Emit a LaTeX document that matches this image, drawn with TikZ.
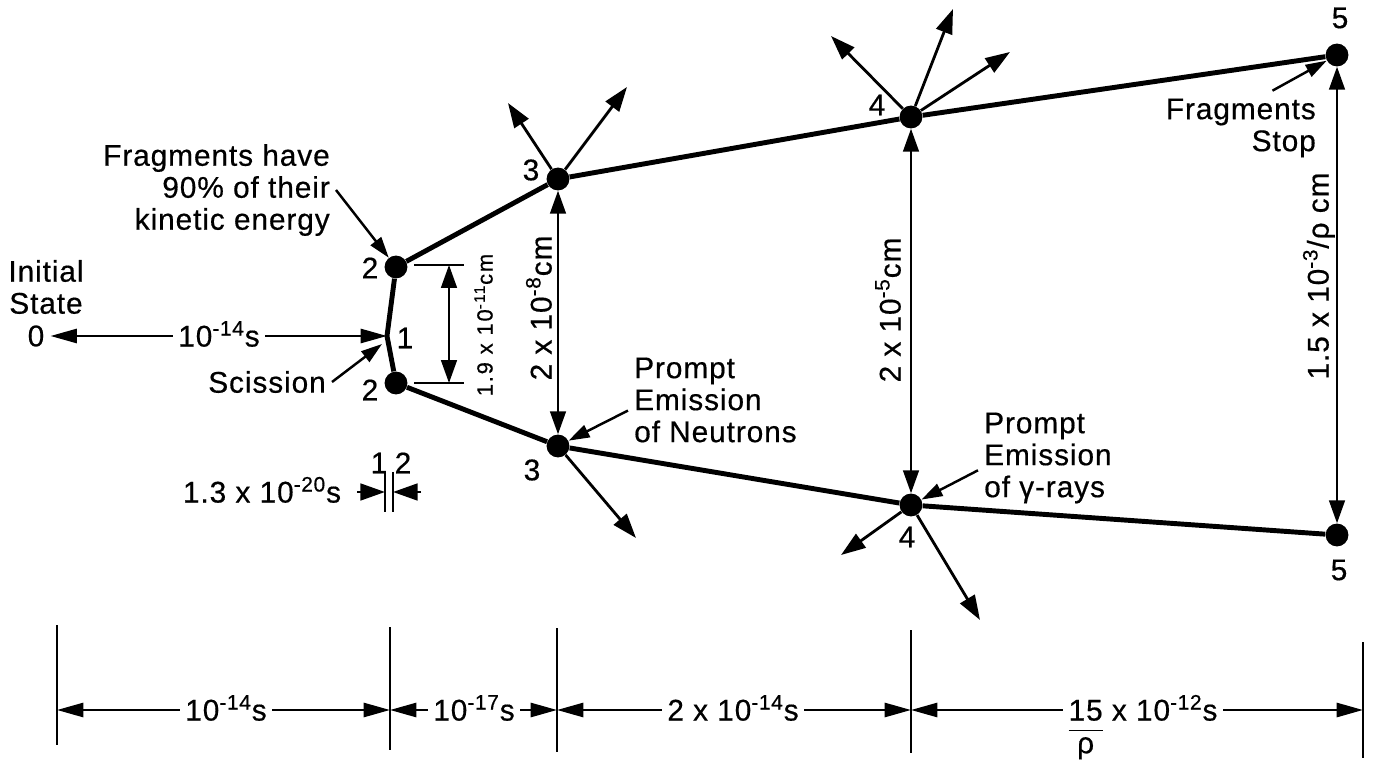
\documentclass[tikz,border=0pt]{standalone}
\usepackage{fontspec}
\setmainfont{Liberation Sans}[LetterSpace=3, FakeBold=0.5]
\usetikzlibrary{arrows.meta,positioning}

\tikzset{
    dot/.style={circle, fill=black, inner sep=0pt, minimum size=13pt},
    frag/.style={line width=2.8pt},
    emit/.style={line width=1.6pt, -{Triangle[length=14pt,width=9.5pt]}},
    dimv/.style={line width=1.1pt, {Triangle[length=13pt,width=9pt]}-{Triangle[length=13pt,width=9pt]}},
    ptr/.style={line width=1.4pt, -{Triangle[length=12pt,width=7.5pt]}},
    axarr/.style={line width=1.5pt, -{Triangle[length=15pt,width=8pt]}},
    gaparr/.style={line width=1.5pt, -{Triangle[length=14pt,width=9.5pt]}},
    tick/.style={line width=1.2pt},
    vlbl/.style={text height=12pt, text depth=0pt, inner sep=3pt},
}

\begin{document}
\begin{tikzpicture}[x=0.02cm, y=-0.02cm, font=\fontsize{17}{18.2}\selectfont]
    \useasboundingbox (0,0) rectangle (1389,766);
    % Fragment positions
    \node[dot] (d2a) at (396,267) {};
    \node[dot] (d2b) at (396,383) {};
    \coordinate (c1) at (387,336);
    \node[dot] (d3a) at (558,179) {};
    \node[dot] (d3b) at (558,446) {};
    \node[dot] (d4a) at (911,117) {};
    \node[dot] (d4b) at (911,505) {};
    \node[dot] (d5a) at (1337,55) {};
    \node[dot] (d5b) at (1337,535) {};
    \draw[frag] (d2a) -- (c1) -- (d2b);
    \draw[frag] (d2a) -- (d3a) -- (d4a) -- (d5a);
    \draw[frag] (d2b) -- (d3b) -- (d4b) -- (d5b);
    % Stage numbers
    \node (l2a) at (370,268) {2};
    \node (l2b) at (370,390) {2};
    \node (l1) at (405,338) {1};
    \node (l3a) at (531,170) {3};
    \node (l3b) at (532,470) {3};
    \node (l4a) at (877,105) {4};
    \node (l4b) at (907,537) {4};
    \node (l5a) at (1340,18) {5};
    \node (l5b) at (1339,570) {5};
    % Initial state
    \node (s0) at (36,336) {0};
    \node[align=center] (init) at (46,287) {Initial\\State};
    \node[vlbl] (tl) at (219,336) {10\textsuperscript{-14}s};
    \draw[axarr] (tl) -- (s0);
    \draw[axarr] (tl) -- (c1);
    % Labels with pointers
    \node[align=right, anchor=east] (lfrag) at (336,190) {Fragments have\\90\% of their\\kinetic energy};
    \draw[ptr] (lfrag.east) -- (d2a);
    \node[anchor=east] (lsc) at (332,382) {Scission};
    \coordinate (sc1) at (382,344);
    \draw[ptr] (lsc.east) -- (sc1);
    \node[align=left, anchor=west] (lneu) at (628,400) {Prompt\\Emission\\of Neutrons};
    \draw[ptr] ([yshift=-6pt]lneu.west) -- (d3b);
    \node[align=left, anchor=west] (lgam) at (978,458) {Prompt\\Emission\\of γ-rays};
    \draw[ptr] ([yshift=-7pt]lgam.west) -- (d4b);
    \node[align=right, anchor=east] (lstop) at (1322,128) {Fragments\\Stop};
    \draw[ptr] ([xshift=18pt,yshift=1pt]lstop.north) -- (d5a);
    % Emission arrows
    \coordinate (e3a1) at (508,103);
    \coordinate (e3a2) at (627,87);
    \coordinate (e3b1) at (636,538);
    \coordinate (e4a1) at (831,36);
    \coordinate (e4a2) at (953,9);
    \coordinate (e4a3) at (1010,52);
    \coordinate (e4b1) at (841,555);
    \coordinate (e4b2) at (980,620);
    \foreach \e in {e3a1,e3a2} \draw[emit] (d3a) -- (\e);
    \draw[emit] (d3b) -- (e3b1);
    \foreach \e in {e4a1,e4a2,e4a3} \draw[emit] (d4a) -- (\e);
    \foreach \e in {e4b1,e4b2} \draw[emit] (d4b) -- (\e);
    % Separations
    \coordinate (k1) at (414,265);
    \coordinate (k2) at (464,265);
    \coordinate (k3) at (414,383);
    \coordinate (k4) at (464,383);
    \coordinate (k5) at (449,265);
    \coordinate (k6) at (449,383);
    \draw[tick] (k1) -- (k2);
    \draw[tick] (k3) -- (k4);
    \draw[dimv] (k5) -- (k6);
    \node[vlbl, rotate=90, font=\fontsize{12.5}{14}\selectfont\addfontfeature{LetterSpace=8}] (t11) at (482,325) {1.9 x 10\textsuperscript{-11}cm};
    \draw[dimv] (d3a) -- (d3b);
    \node[vlbl, rotate=90] (t8) at (541,308) {2 x 10\textsuperscript{-8}cm};
    \draw[dimv] (d4a) -- (d4b);
    \node[vlbl, rotate=90] (t5) at (890,310) {2 x 10\textsuperscript{-5}cm};
    \draw[dimv] (d5a) -- (d5b);
    \node[vlbl, rotate=90] (t3) at (1318,276) {1.5 x 10\textsuperscript{-3}/ρ cm};
    % Scission gap
    \node[vlbl] (t20) at (262,492) {1.3 x 10\textsuperscript{-20}s};
    \node (g1l) at (379,463) {1};
    \node (g2l) at (403,463) {2};
    \coordinate (g1t) at (385,472);
    \coordinate (g1b) at (385,512);
    \coordinate (g2t) at (393,472);
    \coordinate (g2b) at (393,512);
    \draw[tick] (g1t) -- (g1b);
    \draw[tick] (g2t) -- (g2b);
    \coordinate (g1) at (385,492);
    \coordinate (g2) at (393,492);
    \coordinate (g1s) at (357,492);
    \coordinate (g2s) at (421,492);
    \draw[gaparr] (g1s) -- (g1);
    \draw[gaparr] (g2s) -- (g2);
    % Time axis
    \foreach \x/\t/\b [count=\i from 0] in {57/625/745, 390/627/750, 557/628/752, 911/630/753, 1363/642/758} {
        \draw[tick] (\x,\t) -- (\x,\b);
        \coordinate (b\i) at (\x,710);
    }
    \node[vlbl] (ta) at (226,710) {10\textsuperscript{-14}s};
    \node[vlbl] (tb) at (474,710) {10\textsuperscript{-17}s};
    \node[vlbl] (tc) at (733,710) {2 x 10\textsuperscript{-14}s};
    \node[vlbl] (td) at (1143,710) {\begin{tabular}[t]{@{}c@{}}15\\\hline ρ\end{tabular} x 10\textsuperscript{-12}s};
    \draw[axarr] (ta) -- (b0);
    \draw[axarr] (ta) -- (b1);
    \draw[axarr] (tb) -- (b1);
    \draw[axarr] (tb) -- (b2);
    \draw[axarr] (tc) -- (b2);
    \draw[axarr] (tc) -- (b3);
    \draw[axarr] (td) -- (b3);
    \draw[axarr] (td) -- (b4);
\end{tikzpicture}
\end{document}
